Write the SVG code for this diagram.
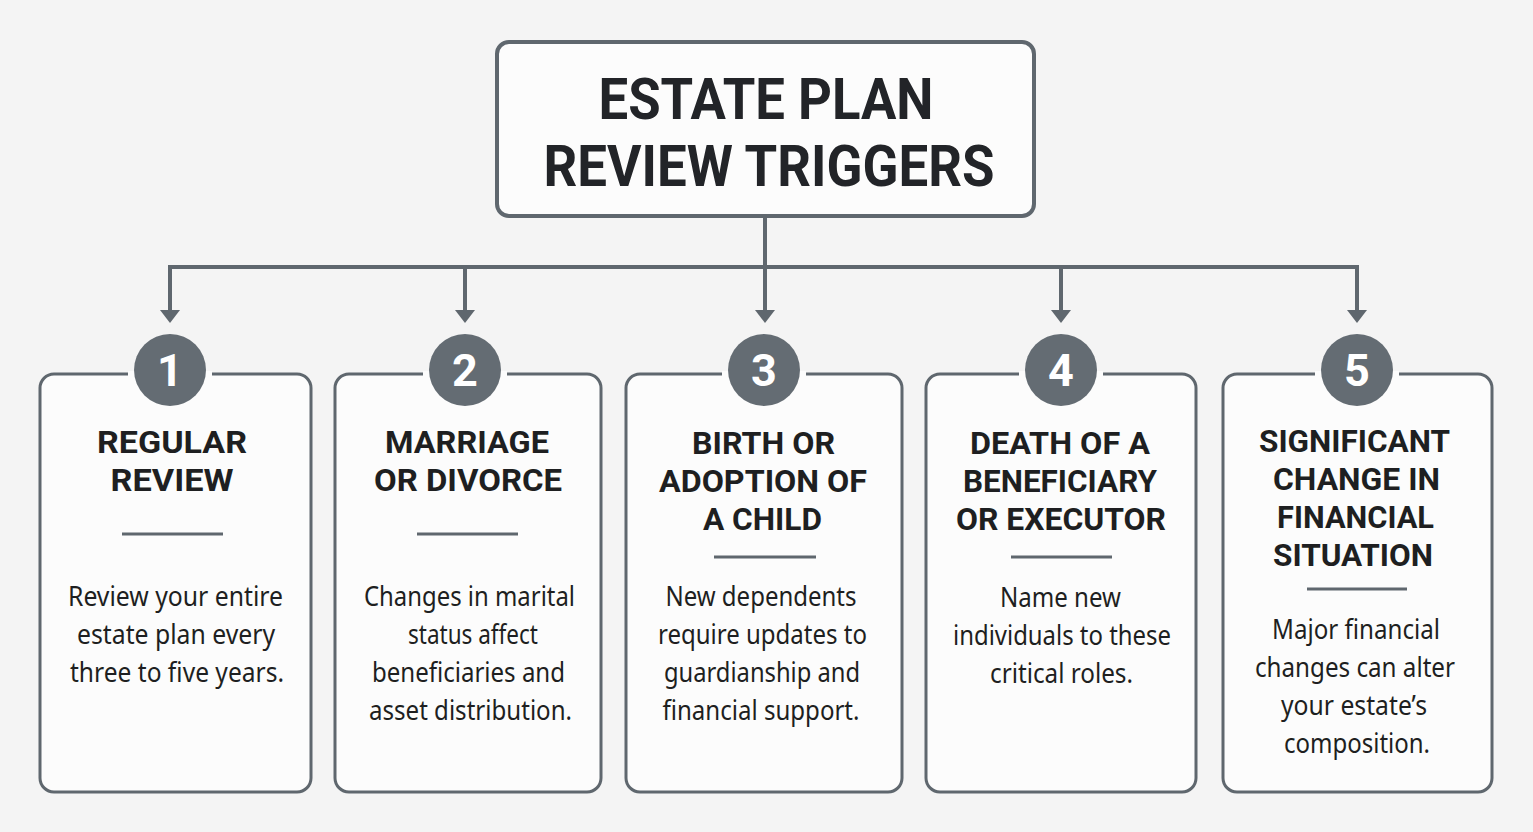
<svg xmlns="http://www.w3.org/2000/svg" width="1533" height="832" viewBox="0 0 1533 832">
<defs>
<style>
.bg{fill:#f4f4f4}
.card{fill:#fcfcfc;stroke:#5f676e;stroke-width:3}
.gap{stroke:#fcfcfc;stroke-width:6}
.circ{fill:#646c73}
.num{font-family:"Roboto","Liberation Sans",sans-serif;font-weight:700;font-size:45px;fill:#ffffff;text-anchor:middle}
.title{font-family:"Roboto","Liberation Sans",sans-serif;font-weight:700;font-size:57px;fill:#222428;text-anchor:middle}
.head{font-family:"Roboto","Liberation Sans",sans-serif;font-weight:700;font-size:32px;fill:#1e1f21;text-anchor:middle}
.body{font-family:"Noto Sans","Liberation Sans",sans-serif;font-size:27px;fill:#1e1f21;text-anchor:middle}
.div{stroke:#5f676e;stroke-width:3}
.conn{fill:none;stroke:#5f676e;stroke-width:4}
</style>
<marker id="arr" viewBox="0 0 13 20" refX="2" refY="10" markerWidth="13" markerHeight="20" markerUnits="userSpaceOnUse" orient="auto">
<path d="M0,0 L13,10 L0,20 z" fill="#5f676e"/>
</marker>
</defs>
<rect class="bg" x="0" y="0" width="1533" height="832"/>

<g id="connectors">
<line class="conn" x1="168" y1="267" x2="1359" y2="267"/>
<line class="conn" x1="765" y1="216" x2="765" y2="312" marker-end="url(#arr)"/>
<line class="conn" x1="170" y1="265" x2="170" y2="312" marker-end="url(#arr)"/>
<line class="conn" x1="465" y1="267" x2="465" y2="312" marker-end="url(#arr)"/>
<line class="conn" x1="1061" y1="267" x2="1061" y2="312" marker-end="url(#arr)"/>
<line class="conn" x1="1357" y1="265" x2="1357" y2="312" marker-end="url(#arr)"/>
</g>

<g id="title">
<rect x="497" y="42" width="537" height="174" rx="12" fill="#fcfcfc" stroke="#5f676e" stroke-width="4"/>
<text class="title" x="766" y="119" textLength="335" lengthAdjust="spacingAndGlyphs">ESTATE PLAN</text>
<text class="title" x="769" y="186" textLength="451" lengthAdjust="spacingAndGlyphs">REVIEW TRIGGERS</text>
</g>

<g id="card1">
<rect class="card" x="40" y="374" width="271" height="418" rx="14"/>
<line class="gap" x1="128" y1="374" x2="212" y2="374"/>
<circle class="circ" cx="170" cy="370" r="36"/>
<text class="num" x="170" y="386">1</text>
<text class="head" x="172" y="453" textLength="150" lengthAdjust="spacingAndGlyphs">REGULAR</text>
<text class="head" x="172" y="491" textLength="123" lengthAdjust="spacingAndGlyphs">REVIEW</text>
<line class="div" x1="122" y1="534" x2="223" y2="534"/>
<text class="body" x="175.5" y="606" textLength="215" lengthAdjust="spacingAndGlyphs">Review your entire</text>
<text class="body" x="176" y="644" textLength="198" lengthAdjust="spacingAndGlyphs">estate plan every</text>
<text class="body" x="177" y="682" textLength="214" lengthAdjust="spacingAndGlyphs">three to five years.</text>
</g>

<g id="card2">
<rect class="card" x="335" y="374" width="266" height="418" rx="14"/>
<line class="gap" x1="423" y1="374" x2="507" y2="374"/>
<circle class="circ" cx="465" cy="370" r="36"/>
<text class="num" x="465" y="386">2</text>
<text class="head" x="467" y="453" textLength="164" lengthAdjust="spacingAndGlyphs">MARRIAGE</text>
<text class="head" x="468" y="491" textLength="188" lengthAdjust="spacingAndGlyphs">OR DIVORCE</text>
<line class="div" x1="417" y1="534" x2="518" y2="534"/>
<text class="body" x="469.5" y="606" textLength="211" lengthAdjust="spacingAndGlyphs">Changes in marital</text>
<text class="body" x="473" y="644" textLength="130" lengthAdjust="spacingAndGlyphs">status affect</text>
<text class="body" x="468.5" y="682" textLength="193" lengthAdjust="spacingAndGlyphs">beneficiaries and</text>
<text class="body" x="470.5" y="720" textLength="203" lengthAdjust="spacingAndGlyphs">asset distribution.</text>
</g>

<g id="card3">
<rect class="card" x="626" y="374" width="276" height="418" rx="14"/>
<line class="gap" x1="722" y1="374" x2="806" y2="374"/>
<circle class="circ" cx="764" cy="370" r="36"/>
<text class="num" x="764" y="386">3</text>
<text class="head" x="763.5" y="454" textLength="143" lengthAdjust="spacingAndGlyphs">BIRTH OR</text>
<text class="head" x="763" y="492" textLength="208" lengthAdjust="spacingAndGlyphs">ADOPTION OF</text>
<text class="head" x="762.5" y="530" textLength="119" lengthAdjust="spacingAndGlyphs">A CHILD</text>
<line class="div" x1="714" y1="557" x2="816" y2="557"/>
<text class="body" x="761" y="606" textLength="191" lengthAdjust="spacingAndGlyphs">New dependents</text>
<text class="body" x="762.5" y="644" textLength="209" lengthAdjust="spacingAndGlyphs">require updates to</text>
<text class="body" x="762" y="682" textLength="196" lengthAdjust="spacingAndGlyphs">guardianship and</text>
<text class="body" x="761" y="720" textLength="197" lengthAdjust="spacingAndGlyphs">financial support.</text>
</g>

<g id="card4">
<rect class="card" x="926" y="374" width="270" height="418" rx="14"/>
<line class="gap" x1="1019" y1="374" x2="1103" y2="374"/>
<circle class="circ" cx="1061" cy="370" r="36"/>
<text class="num" x="1061" y="386">4</text>
<text class="head" x="1060" y="454" textLength="180" lengthAdjust="spacingAndGlyphs">DEATH OF A</text>
<text class="head" x="1060" y="492" textLength="194" lengthAdjust="spacingAndGlyphs">BENEFICIARY</text>
<text class="head" x="1061" y="530" textLength="210" lengthAdjust="spacingAndGlyphs">OR EXECUTOR</text>
<line class="div" x1="1011" y1="557" x2="1112" y2="557"/>
<text class="body" x="1060.5" y="607" textLength="121" lengthAdjust="spacingAndGlyphs">Name new</text>
<text class="body" x="1062" y="645" textLength="218" lengthAdjust="spacingAndGlyphs">individuals to these</text>
<text class="body" x="1061.5" y="683" textLength="143" lengthAdjust="spacingAndGlyphs">critical roles.</text>
</g>

<g id="card5">
<rect class="card" x="1223" y="374" width="269" height="418" rx="14"/>
<line class="gap" x1="1315" y1="374" x2="1399" y2="374"/>
<circle class="circ" cx="1357" cy="370" r="36"/>
<text class="num" x="1357" y="386">5</text>
<text class="head" x="1354.5" y="452" textLength="191" lengthAdjust="spacingAndGlyphs">SIGNIFICANT</text>
<text class="head" x="1356.5" y="490" textLength="167" lengthAdjust="spacingAndGlyphs">CHANGE IN</text>
<text class="head" x="1355.5" y="528" textLength="157" lengthAdjust="spacingAndGlyphs">FINANCIAL</text>
<text class="head" x="1353" y="566" textLength="160" lengthAdjust="spacingAndGlyphs">SITUATION</text>
<line class="div" x1="1307" y1="589" x2="1407" y2="589"/>
<text class="body" x="1356" y="639" textLength="168" lengthAdjust="spacingAndGlyphs">Major financial</text>
<text class="body" x="1355" y="677" textLength="200" lengthAdjust="spacingAndGlyphs">changes can alter</text>
<text class="body" x="1354" y="715" textLength="146" lengthAdjust="spacingAndGlyphs">your estate’s</text>
<text class="body" x="1357" y="753" textLength="146" lengthAdjust="spacingAndGlyphs">composition.</text>
</g>
</svg>
